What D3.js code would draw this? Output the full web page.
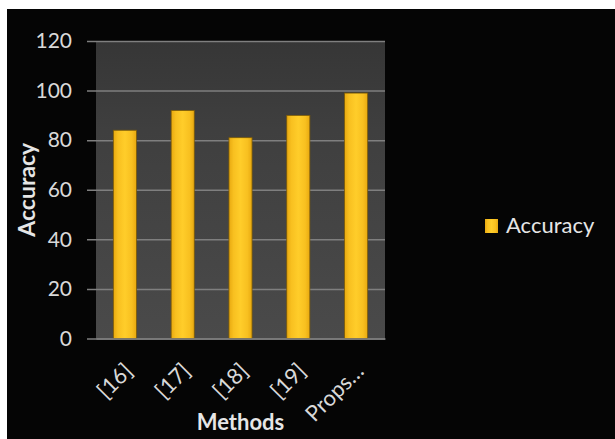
<!DOCTYPE html>
<html>
<head>
<meta charset="utf-8">
<script src="https://cdn.jsdelivr.net/npm/d3@7"></script>
<style>
  html, body { margin: 0; padding: 0; background: #ffffff; }
  svg { display: block; }
</style>
</head>
<body>
<svg id="chart" width="615" height="439"></svg>
<script>
// Accuracy per method
const methods = ["[16]", "[17]", "[18]", "[19]", "Props…"];
const accuracy = [84, 92, 81, 90, 99];
const yTicks = [0, 20, 40, 60, 80, 100, 120];
const seriesName = "Accuracy";
const xTitle = "Methods";
const yTitle = "Accuracy";

const svg = d3.select("#chart");
const W = 615, H = 439;
const font = "Lato, 'Open Sans', sans-serif";

// black slide background
svg.append("rect").attr("x", 7).attr("y", 9).attr("width", W - 7).attr("height", H - 9).attr("fill", "#050505");

const plot = { left: 96, right: 385, top: 41, bottom: 338.5 };

const x = d3.scaleBand().domain(methods).range([plot.left, plot.right]).paddingInner(0.6).paddingOuter(0.3);
const y = d3.scaleLinear().domain([0, 120]).range([plot.bottom, plot.top]);

const defs = svg.append("defs");
const bg = defs.append("linearGradient").attr("id", "plotBg").attr("x1", 0).attr("y1", 0).attr("x2", 0).attr("y2", 1);
bg.append("stop").attr("offset", 0).attr("stop-color", "#363636");
bg.append("stop").attr("offset", 0.3).attr("stop-color", "#3f3f3f");
bg.append("stop").attr("offset", 1).attr("stop-color", "#4a4a4a");

const barGrad = defs.append("linearGradient").attr("id", "barFill").attr("x1", 0).attr("y1", 0).attr("x2", 1).attr("y2", 0);
barGrad.append("stop").attr("offset", 0).attr("stop-color", "#e8a910");
barGrad.append("stop").attr("offset", 0.2).attr("stop-color", "#f8c020");
barGrad.append("stop").attr("offset", 0.5).attr("stop-color", "#ffcd2a");
barGrad.append("stop").attr("offset", 0.8).attr("stop-color", "#f8c020");
barGrad.append("stop").attr("offset", 1).attr("stop-color", "#e8a910");

// plot area
svg.append("rect")
  .attr("x", plot.left).attr("y", plot.top)
  .attr("width", plot.right - plot.left).attr("height", plot.bottom - plot.top)
  .attr("fill", "url(#plotBg)");

// value axis with gridlines
const yAxis = d3.axisLeft(y).tickValues(yTicks).tickSizeOuter(0);
const gy = svg.append("g").attr("transform", `translate(${plot.right},0)`).call(yAxis);
gy.select(".domain").remove();
gy.selectAll(".tick line").attr("stroke", "#7f7f7f").attr("stroke-width", 1.5)
  .attr("x1", 0).attr("x2", -(plot.right - plot.left) - 9);
gy.selectAll(".tick text")
  .attr("x", -(plot.right - plot.left) - 24)
  .attr("fill", "#d9d9d9").attr("font-family", font).attr("font-size", 21);

// bars
svg.append("g").selectAll("rect").data(methods).join("rect")
  .attr("x", d => x(d))
  .attr("y", (d, i) => y(accuracy[i]))
  .attr("width", x.bandwidth())
  .attr("height", (d, i) => y(0) - y(accuracy[i]))
  .attr("fill", "url(#barFill)")
  .attr("stroke", "#7a5a08").attr("stroke-width", 0.8);

// category axis
const xAxis = d3.axisBottom(x).tickSize(0).tickPadding(0);
const gx = svg.append("g").attr("transform", `translate(0,${plot.bottom})`).call(xAxis);
gx.select(".domain").attr("stroke", "#7f7f7f").attr("stroke-width", 1.5);
gx.selectAll(".tick text")
  .attr("fill", "#d9d9d9").attr("font-family", font).attr("font-size", 22)
  .attr("text-anchor", "end")
  .attr("dy", 0)
  .attr("transform", "translate(9,34) rotate(-45)");

// axis titles
svg.append("text")
  .attr("x", (plot.left + plot.right) / 2).attr("y", 430)
  .attr("text-anchor", "middle")
  .attr("fill", "#e6e6e6").attr("font-family", font).attr("font-weight", "bold").attr("font-size", 22)
  .text(xTitle);

svg.append("text")
  .attr("transform", `translate(35,${(plot.top + plot.bottom) / 2}) rotate(-90)`)
  .attr("text-anchor", "middle")
  .attr("fill", "#e6e6e6").attr("font-family", font).attr("font-weight", "bold").attr("font-size", 23)
  .text(yTitle);

// legend
const lg = svg.append("g").attr("transform", "translate(485,219)");
lg.append("rect").attr("width", 13).attr("height", 14).attr("fill", "url(#barFill)");
lg.append("text").attr("x", 21).attr("y", 14)
  .attr("fill", "#e6e6e6").attr("font-family", font).attr("font-size", 22)
  .text(seriesName);
</script>
</body>
</html>
